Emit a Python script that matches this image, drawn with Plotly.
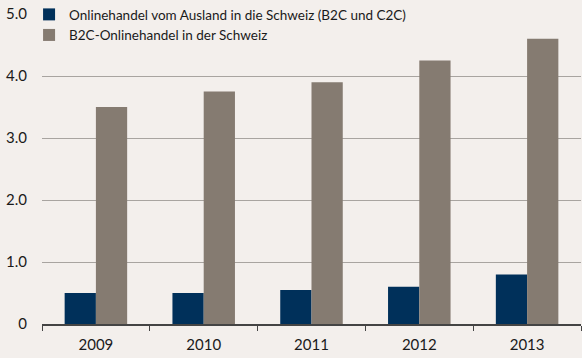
import plotly.graph_objects as go

years = ["2009", "2010", "2011", "2012", "2013"]
ausland = [0.5, 0.5, 0.55, 0.6, 0.8]
inland = [3.5, 3.75, 3.9, 4.25, 4.6]
names = ["Onlinehandel vom Ausland in die Schweiz (B2C und C2C)",
         "B2C-Onlinehandel in der Schweiz"]
ytick_vals = [0, 1, 2, 3, 4, 5]
ytick_text = ["0", "1.0", "2.0", "3.0", "4.0", "5.0"]

bg = "#F3EFEC"
fig = go.Figure()
fig.add_trace(go.Bar(x=years, y=ausland, name=names[0], marker_color="#00305A",
                     marker_line_width=0))
fig.add_trace(go.Bar(x=years, y=inland, name=names[1], marker_color="#857B71",
                     marker_line_width=0))

fig.update_layout(
    width=582, height=358,
    margin=dict(l=42, r=1, t=14, b=34, autoexpand=False),
    paper_bgcolor=bg, plot_bgcolor=bg,
    barmode="group", bargap=0.42, bargroupgap=0,
    font=dict(family="Lato", size=15, color="#1a1a1a"),
    legend=dict(x=-0.024, y=1.048, xanchor="left", yanchor="top",
                bgcolor=bg, font=dict(size=13.5), tracegroupgap=0,
                itemwidth=30),
    showlegend=True,
)
fig.update_xaxes(type="category", tickson="boundaries", ticks="outside",
                 ticklen=5, tickcolor="#444", showline=True, linecolor="#444",
                 linewidth=1.5, showgrid=False, tickfont=dict(size=15),
                 ticklabelstandoff=6)
fig.update_yaxes(range=[0, 5.0], tickvals=ytick_vals, ticktext=ytick_text,
                 showgrid=True, gridcolor="#A8A4A0", gridwidth=1,
                 zeroline=False, ticks="", tickfont=dict(size=15),
                 ticklabelstandoff=14)
fig.write_html("out.html", config={"displayModeBar": False},
               post_script="document.body.style.margin='0';document.body.style.background='%s';" % bg)
